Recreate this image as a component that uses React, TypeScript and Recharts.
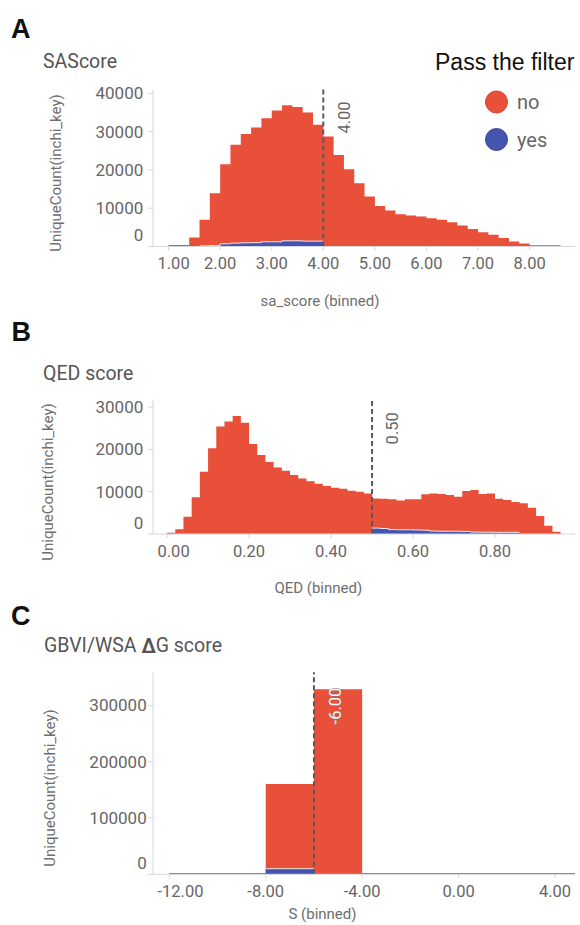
import React from 'react';
import { ComposedChart, Area, XAxis, YAxis, ReferenceLine } from 'recharts';

const RED = '#E8503A';
const BLUE = '#4455AF';
const AXIS = '#D3D6DE';
const TXT = '#666666';
const FONT = 'Roboto, "Noto Sans", sans-serif';

// ---------- Panel A: SAScore ----------
const saBinStart = [1.0, 1.2, 1.4, 1.6, 1.8, 2.0, 2.2, 2.4, 2.6, 2.8, 3.0, 3.2, 3.4, 3.6, 3.8, 4.0, 4.2, 4.4, 4.6, 4.8, 5.0, 5.2, 5.4, 5.6, 5.8, 6.0, 6.2, 6.4, 6.6, 6.8, 7.0, 7.2, 7.4, 7.6, 7.8, 8.0, 8.2, 8.4];
const saLastEdge = 8.6;
const saNo = [400, 400, 2350, 6820, 13650, 20800, 25670, 28430, 30100, 32270, 34270, 35410, 34910, 33600, 30400, 28700, 23900, 20200, 16550, 13050, 10600, 9400, 8450, 8100, 7850, 7400, 6970, 6350, 5500, 4550, 3750, 3050, 2200, 1300, 800, 300, 300, 300];
const saYes = [0, 0, 0, 150, 250, 700, 880, 970, 1000, 1230, 1230, 1490, 1490, 1400, 1400, 0, 0, 0, 0, 0, 0, 0, 0, 0, 0, 0, 0, 0, 0, 0, 0, 0, 0, 0, 0, 0, 0, 0];
const saXTicks = [1, 2, 3, 4, 5, 6, 7, 8];
const saYTicks = [0, 10000, 20000, 30000, 40000];
const saThreshold = 4;

// ---------- Panel B: QED ----------
const qedBinStart = [0.0, 0.02, 0.04, 0.06, 0.08, 0.1, 0.12, 0.14, 0.16, 0.18, 0.2, 0.22, 0.24, 0.26, 0.28, 0.3, 0.32, 0.34, 0.36, 0.38, 0.4, 0.42, 0.44, 0.46, 0.48, 0.5, 0.52, 0.54, 0.56, 0.58, 0.6, 0.62, 0.64, 0.66, 0.68, 0.7, 0.72, 0.74, 0.76, 0.78, 0.8, 0.82, 0.84, 0.86, 0.88, 0.9, 0.92, 0.94];
const qedLastEdge = 0.96;
const qedNo = [300, 1100, 4100, 8700, 14700, 20250, 25400, 26600, 27900, 26300, 21300, 18700, 17000, 15750, 14950, 13950, 13150, 12500, 11900, 11350, 10950, 10700, 10250, 10000, 9600, 7000, 7050, 7150, 6900, 7200, 7250, 8500, 8900, 8800, 8550, 8150, 9550, 9950, 9030, 9180, 7950, 7650, 7150, 7250, 6200, 4250, 1950, 550];
const qedYes = [0, 0, 0, 0, 0, 0, 0, 0, 0, 0, 0, 0, 0, 0, 0, 0, 0, 0, 0, 0, 0, 0, 0, 0, 0, 1400, 1300, 1050, 1000, 1000, 950, 900, 700, 650, 650, 650, 600, 450, 420, 420, 400, 400, 400, 0, 0, 0, 0, 0];
const qedXTicks = [0, 0.2, 0.4, 0.6, 0.8];
const qedYTicks = [0, 10000, 20000, 30000];
const qedThreshold = 0.5;

// ---------- Panel C: GBVI/WSA dG ----------
const sBinStart = [-12, -10, -8, -6, -4, -2, 0, 2, 4];
const sLastEdge = 6;
const sNo = [2500, 2500, 150500, 329000, 2500, 2500, 2500, 2500, 2500];
const sYes = [0, 0, 10000, 0, 0, 0, 0, 0, 0];
const sXTicks = [-12, -8, -4, 0, 4];
const sYTicks = [0, 100000, 200000, 300000];
const sThreshold = -6;

type Row = { x: number; total: number; yes: number | null };

function buildTable(starts: number[], lastEdge: number, no: number[], yes: number[]): Row[] {
  const rows: Row[] = starts.map((x, i) => ({
    x,
    total: no[i] + yes[i],
    yes: yes[i] > 0 ? yes[i] : i > 0 && yes[i - 1] > 0 ? yes[i - 1] : null,
  }));
  const l = starts.length - 1;
  rows.push({ x: lastEdge, total: no[l] + yes[l], yes: yes[l] > 0 ? yes[l] : null });
  return rows;
}

type PanelProps = {
  top: number;
  height: number;
  plotTop: number;
  plotBottom: number;
  data: Row[];
  xDomain: [number, number];
  xTicks: number[];
  yDomain: [number, number];
  yTicks: number[];
  yTickMargin: number;
  refX: number;
  refText: string;
  refDx: number;
  refDy: number;
  refOnRed?: boolean;
};

function Panel(p: PanelProps) {
  const xTick = (t: any) => {
    const first = t.payload.value === p.xTicks[0];
    return (
      <text
        x={first ? 157.5 : t.x}
        y={t.y + 11}
        textAnchor={first ? 'start' : 'middle'}
        dominantBaseline="central"
        fill={TXT}
        fontSize={16.5}
        fontFamily={FONT}
      >
        {Number(t.payload.value).toFixed(2)}
      </text>
    );
  };
  const yTick = (t: any) => (
    <text
      x={t.x}
      y={t.y + (t.payload.value === 0 ? -11.5 : 0)}
      textAnchor="end"
      dominantBaseline="central"
      fill={TXT}
      fontSize={17}
      fontFamily={FONT}
    >
      {String(t.payload.value)}
    </text>
  );
  const refLabel = (lp: any) => {
    const vb = lp && lp.viewBox ? lp.viewBox : { x: 0, y: 0 };
    const cx = vb.x + p.refDx;
    const cy = vb.y + p.refDy;
    return (
      <text
        x={cx}
        y={cy}
        transform={`rotate(-90 ${cx} ${cy})`}
        textAnchor="middle"
        dominantBaseline="central"
        fill={p.refOnRed ? '#F6F2F2' : TXT}
        stroke={p.refOnRed ? '#7A7A7A' : '#FFFFFF'}
        strokeWidth={p.refOnRed ? 0.9 : 3}
        paintOrder="stroke"
        fontSize={16.5}
        fontFamily={FONT}
      >
        {p.refText}
      </text>
    );
  };
  return (
    <div style={{ position: 'absolute', left: 0, top: p.top, width: 580, height: p.height }}>
      <ComposedChart
        width={580}
        height={p.height}
        data={p.data}
        margin={{ top: p.plotTop, right: 5, bottom: p.height - p.plotBottom - 30, left: 0 }}
      >
        <XAxis
          dataKey="x"
          type="number"
          domain={p.xDomain}
          ticks={p.xTicks}
          allowDataOverflow
          height={30}
          stroke={AXIS}
          tickSize={4}
          tickMargin={2}
          tick={xTick}
          axisLine={{ stroke: AXIS }}
          tickLine={{ stroke: AXIS }}
        />
        <YAxis
          type="number"
          domain={p.yDomain}
          ticks={p.yTicks}
          allowDataOverflow
          width={153}
          stroke={AXIS}
          tickSize={5}
          tickMargin={p.yTickMargin}
          tick={yTick}
          axisLine={{ stroke: AXIS }}
          tickLine={{ stroke: AXIS }}
        />
        <Area
          type="stepAfter"
          dataKey="total"
          fill={RED}
          fillOpacity={1}
          stroke="none"
          dot={false}
          activeDot={false}
          isAnimationActive={false}
        />
        <Area
          type="stepAfter"
          dataKey="yes"
          fill={BLUE}
          fillOpacity={1}
          stroke="#F4E6E6"
          strokeWidth={1}
          dot={false}
          activeDot={false}
          isAnimationActive={false}
        />
        <ReferenceLine
          x={p.refX}
          stroke="#555A60"
          strokeWidth={2}
          strokeDasharray="5 3"
          label={refLabel}
        />
      </ComposedChart>
    </div>
  );
}

const saData = buildTable(saBinStart, saLastEdge, saNo, saYes);
const qedData = buildTable(qedBinStart, qedLastEdge, qedNo, qedYes);
const sData = buildTable(sBinStart, sLastEdge, sNo, sYes);

export default function App() {
  const letter = { fontFamily: '"Liberation Sans", Arial, sans-serif', fontWeight: 700, fontSize: 27, fill: '#111' } as const;
  const title = { fontFamily: FONT, fontSize: 19.5, fill: '#555' } as const;
  const axTitle = { fontFamily: FONT, fontSize: 15, fill: '#6E6E6E' } as const;
  return (
    <div style={{ position: 'absolute', left: 0, top: 0, width: 580, height: 925, background: '#fff', overflow: 'hidden' }}>
      <Panel
        top={0}
        height={310}
        plotTop={89.5}
        plotBottom={246.5}
        data={saData}
        xDomain={[0.698, 8.88]}
        xTicks={saXTicks}
        yDomain={[0, 41000]}
        yTicks={saYTicks}
        yTickMargin={4.7}
        refX={saThreshold}
        refText="4.00"
        refDx={20.8}
        refDy={28}
      />
      <Panel
        top={310}
        height={290}
        plotTop={89.3}
        plotBottom={224}
        data={qedData}
        xDomain={[-0.0343, 0.995]}
        xTicks={qedXTicks}
        yDomain={[0, 31850]}
        yTicks={qedYTicks}
        yTickMargin={4.7}
        refX={qedThreshold}
        refText="0.50"
        refDx={20}
        refDy={29}
      />
      <Panel
        top={600}
        height={325}
        plotTop={72.3}
        plotBottom={274.3}
        data={sData}
        xDomain={[-12.674, 4.827]}
        xTicks={sXTicks}
        yDomain={[0, 359000]}
        yTicks={sYTicks}
        yTickMargin={1.3}
        refX={sThreshold}
        refText="-6.00"
        refDx={21.7}
        refDy={33.7}
        refOnRed
      />
      <svg width={580} height={925} style={{ position: 'absolute', left: 0, top: 0, pointerEvents: 'none' }}>
        <text x={11} y={38.3} {...letter}>A</text>
        <text x={11.5} y={340.7} {...letter}>B</text>
        <text x={11} y={625} {...letter}>C</text>

        <text x={43} y={61.7} dominantBaseline="central" {...title}>SAScore</text>
        <text x={43} y={373.3} dominantBaseline="central" {...title}>QED score</text>
        <text x={44} y={645.5} dominantBaseline="central" {...title}>
          GBVI/WSA <tspan fontWeight={700}>Δ</tspan>G score
        </text>

        <text x={56} y={173} transform="rotate(-90 56 173)" textAnchor="middle" dominantBaseline="central" {...axTitle}>UniqueCount(inchi_key)</text>
        <text x={48} y={482} transform="rotate(-90 48 482)" textAnchor="middle" dominantBaseline="central" {...axTitle}>UniqueCount(inchi_key)</text>
        <text x={50} y={788} transform="rotate(-90 50 788)" textAnchor="middle" dominantBaseline="central" {...axTitle}>UniqueCount(inchi_key)</text>

        <text x={320} y={301} textAnchor="middle" dominantBaseline="central" {...axTitle}>sa_score (binned)</text>
        <text x={318.3} y={588.3} textAnchor="middle" dominantBaseline="central" {...axTitle}>QED (binned)</text>
        <text x={322.5} y={914} textAnchor="middle" dominantBaseline="central" {...axTitle}>S (binned)</text>

        <text x={435} y={61.7} dominantBaseline="central" fontFamily='"Liberation Sans", Arial, sans-serif' fontSize={23} fill="#111">Pass the filter</text>
        <circle cx={496.5} cy={102} r={11} fill={RED} stroke="#D24530" strokeWidth={1} />
        <text x={517} y={102} dominantBaseline="central" fontFamily={FONT} fontSize={20} fill={TXT}>no</text>
        <circle cx={496.5} cy={139.5} r={11} fill={BLUE} stroke="#3A4A9C" strokeWidth={1} />
        <text x={517} y={139.5} dominantBaseline="central" fontFamily={FONT} fontSize={20} fill={TXT}>yes</text>
      </svg>
    </div>
  );
}
